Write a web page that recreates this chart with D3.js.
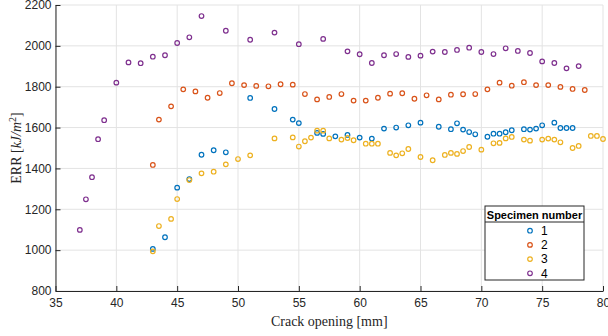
<!DOCTYPE html>
<html>
<head>
<meta charset="utf-8">
<script src="https://cdn.jsdelivr.net/npm/d3@7"></script>
<style>
  body { margin: 0; background: #fff; }
  svg text { font-family: "Liberation Sans", Arial, sans-serif; }
</style>
</head>
<body>
<svg id="chart" width="608" height="336"></svg>
<script>
// specimen data: crack opening [mm] and ERR [kJ/m^2]
var s1x = [43, 44, 45, 46, 47, 48, 49, 51, 53, 54.5, 55, 56.5, 57, 58, 59, 60, 61, 62, 63, 64, 65,
           66.5, 67.5, 68, 68.5, 69, 69.5, 70.5, 71, 71.5, 72, 72.5, 73.5, 74, 74.5, 75, 76, 76.5, 77, 77.5];
var s1y = [1006, 1063, 1306, 1348, 1467, 1489, 1479, 1745, 1691, 1639, 1622, 1574, 1569, 1557, 1564, 1551, 1546, 1595, 1600, 1611, 1624,
           1604, 1592, 1621, 1590, 1578, 1567, 1555, 1570, 1570, 1577, 1587, 1592, 1590, 1595, 1611, 1624, 1598, 1598, 1598];

var s2x = [43, 43.5, 44.5, 45.5, 46.5, 47.5, 48.5, 49.5, 50.5, 51.5, 52.5, 53.5, 54.5, 55.5, 56.5, 57.5, 58.5, 59.5, 60.5,
           61.5, 62.5, 63.5, 64.5, 65.5, 66.5, 67.5, 68.5, 69.5, 70.5, 71.5, 72.5, 73.5, 74.5, 75.5, 76.5, 77.5, 78.5];
var s2y = [1417, 1639, 1704, 1787, 1777, 1746, 1769, 1817, 1808, 1804, 1802, 1812, 1810, 1764, 1738, 1750, 1764, 1732, 1732,
           1746, 1766, 1768, 1741, 1758, 1738, 1761, 1763, 1764, 1787, 1820, 1805, 1822, 1808, 1808, 1799, 1789, 1784];

var s3x = [43, 43.5, 44.5, 45, 46, 47, 48, 49, 50, 51, 53, 54.5, 55, 55.5, 56, 56.5, 57, 57.5, 58.5, 59, 59.5, 60.5, 61, 61.5,
           62.5, 63, 63.5, 64, 65, 66, 67, 67.5, 68, 68.5, 69, 70, 71, 71.5, 72, 72.5, 73.5, 74, 75, 75.5, 76, 76.5,
           77.5, 78, 79, 79.5, 80];
var s3y = [994, 1118, 1153, 1250, 1343, 1376, 1384, 1420, 1446, 1464, 1547, 1552, 1507, 1533, 1551, 1585, 1585, 1547, 1541, 1549, 1538, 1521, 1521, 1521,
           1476, 1464, 1474, 1495, 1456, 1440, 1466, 1476, 1471, 1485, 1505, 1492, 1523, 1525, 1547, 1554, 1541, 1536, 1541, 1546, 1541, 1528,
           1500, 1510, 1559, 1559, 1544];

var s4x = [37, 37.5, 38, 38.5, 39, 40, 41, 42, 43, 44, 45, 46, 47, 49, 51, 53, 55, 57, 59, 60, 61, 62, 63, 64, 65,
           66, 67, 68, 69, 70, 71, 72, 73, 74, 75, 76, 77, 78];
var s4y = [1099, 1249, 1357, 1543, 1636, 1820, 1919, 1915, 1947, 1954, 2014, 2042, 2146, 2074, 2030, 2065, 2008, 2034, 1973, 1959, 1916, 1954, 1960, 1946, 1952,
           1972, 1970, 1980, 1991, 1970, 1960, 1988, 1975, 1965, 1924, 1916, 1890, 1901];

var seriesNames = ["1", "2", "3", "4"];
var colors = ["#0072BD", "#D95319", "#EDB120", "#7E2F8E"];
var xTicks = [35, 40, 45, 50, 55, 60, 65, 70, 75, 80];
var yTicks = [800, 1000, 1200, 1400, 1600, 1800, 2000, 2200];

var series = [[s1x, s1y], [s2x, s2y], [s3x, s3y], [s4x, s4y]].map(function(p, i) {
  return { name: seriesNames[i], color: colors[i],
           pts: p[0].map(function(x, j) { return { x: x, y: p[1][j] }; }) };
});

var svg = d3.select("#chart");
var mLeft = 55.5, mRight = 603, mTop = 5, mBottom = 291;

var x = d3.scaleLinear().domain([35, 80]).range([mLeft, mRight]);
var y = d3.scaleLinear().domain([800, 2200]).range([mBottom, mTop]);

// grid
svg.append("g").selectAll("line").data(xTicks).enter().append("line")
    .attr("x1", function(d) { return x(d); }).attr("x2", function(d) { return x(d); })
    .attr("y1", mTop).attr("y2", mBottom)
    .attr("stroke", "#e3e3e3").attr("stroke-width", 1);
svg.append("g").selectAll("line").data(yTicks).enter().append("line")
    .attr("y1", function(d) { return y(d); }).attr("y2", function(d) { return y(d); })
    .attr("x1", mLeft).attr("x2", mRight)
    .attr("stroke", "#e3e3e3").attr("stroke-width", 1);

// axes, ticks pointing inward like matlab
var xAxis = svg.append("g").attr("transform", "translate(0," + mBottom + ")")
    .call(d3.axisBottom(x).tickValues(xTicks).tickFormat(d3.format("d"))
          .tickSizeInner(-5).tickSizeOuter(0).tickPadding(7));
var yAxis = svg.append("g").attr("transform", "translate(" + mLeft + ",0)")
    .call(d3.axisLeft(y).tickValues(yTicks).tickFormat(d3.format("d"))
          .tickSizeInner(-5).tickSizeOuter(0).tickPadding(4));

[xAxis, yAxis].forEach(function(a) {
  a.select(".domain").attr("stroke", "#262626");
  a.selectAll(".tick line").attr("stroke", "#262626");
  a.selectAll(".tick text").attr("fill", "#262626").style("font-size", "12px")
      .style("font-family", "'Liberation Sans', Arial, sans-serif");
});

// points
series.forEach(function(s) {
  svg.append("g").selectAll("circle").data(s.pts).enter().append("circle")
      .attr("cx", function(d) { return x(d.x); })
      .attr("cy", function(d) { return y(d.y); })
      .attr("r", 2.3)
      .attr("fill", "none")
      .attr("stroke", s.color)
      .attr("stroke-width", 1.2);
});

// axis labels
svg.append("text")
    .attr("x", (mLeft + mRight) / 2).attr("y", 326)
    .attr("text-anchor", "middle")
    .style("font-family", "'Liberation Serif', 'Times New Roman', serif")
    .style("font-size", "14px").attr("fill", "#262626")
    .text("Crack opening [mm]");

var yl = svg.append("text")
    .attr("transform", "translate(20.5," + ((mTop + mBottom) / 2) + ") rotate(-90)")
    .attr("text-anchor", "middle")
    .style("font-family", "'Liberation Serif', 'Times New Roman', serif")
    .style("font-size", "14px").attr("fill", "#262626");
yl.append("tspan").text("ERR [");
yl.append("tspan").style("font-style", "italic").text("kJ/m");
yl.append("tspan").attr("dy", "-5").style("font-size", "10px").text("2");
yl.append("tspan").attr("dy", "5").text("]");

// legend
var lg = svg.append("g").attr("transform", "translate(485,206)");
lg.append("rect").attr("width", 99).attr("height", 74)
    .attr("fill", "#fff").attr("stroke", "#262626").attr("stroke-width", 1);
lg.append("line").attr("x1", 0).attr("x2", 99).attr("y1", 16).attr("y2", 16)
    .attr("stroke", "#262626");
lg.append("text").attr("x", 49.5).attr("y", 12.5).attr("text-anchor", "middle")
    .style("font-size", "11px").style("font-weight", "bold").attr("fill", "#000")
    .text("Specimen number");
var rows = lg.selectAll(".row").data(series).enter().append("g")
    .attr("transform", function(d, i) { return "translate(0," + (24.7 + i * 14.2) + ")"; });
rows.append("circle").attr("cx", 45).attr("r", 2.3).attr("fill", "none")
    .attr("stroke", function(d) { return d.color; }).attr("stroke-width", 1.2);
rows.append("text").attr("x", 56).attr("dy", "0.36em")
    .style("font-size", "12px").attr("fill", "#000")
    .text(function(d) { return d.name; });
</script>
</body>
</html>
